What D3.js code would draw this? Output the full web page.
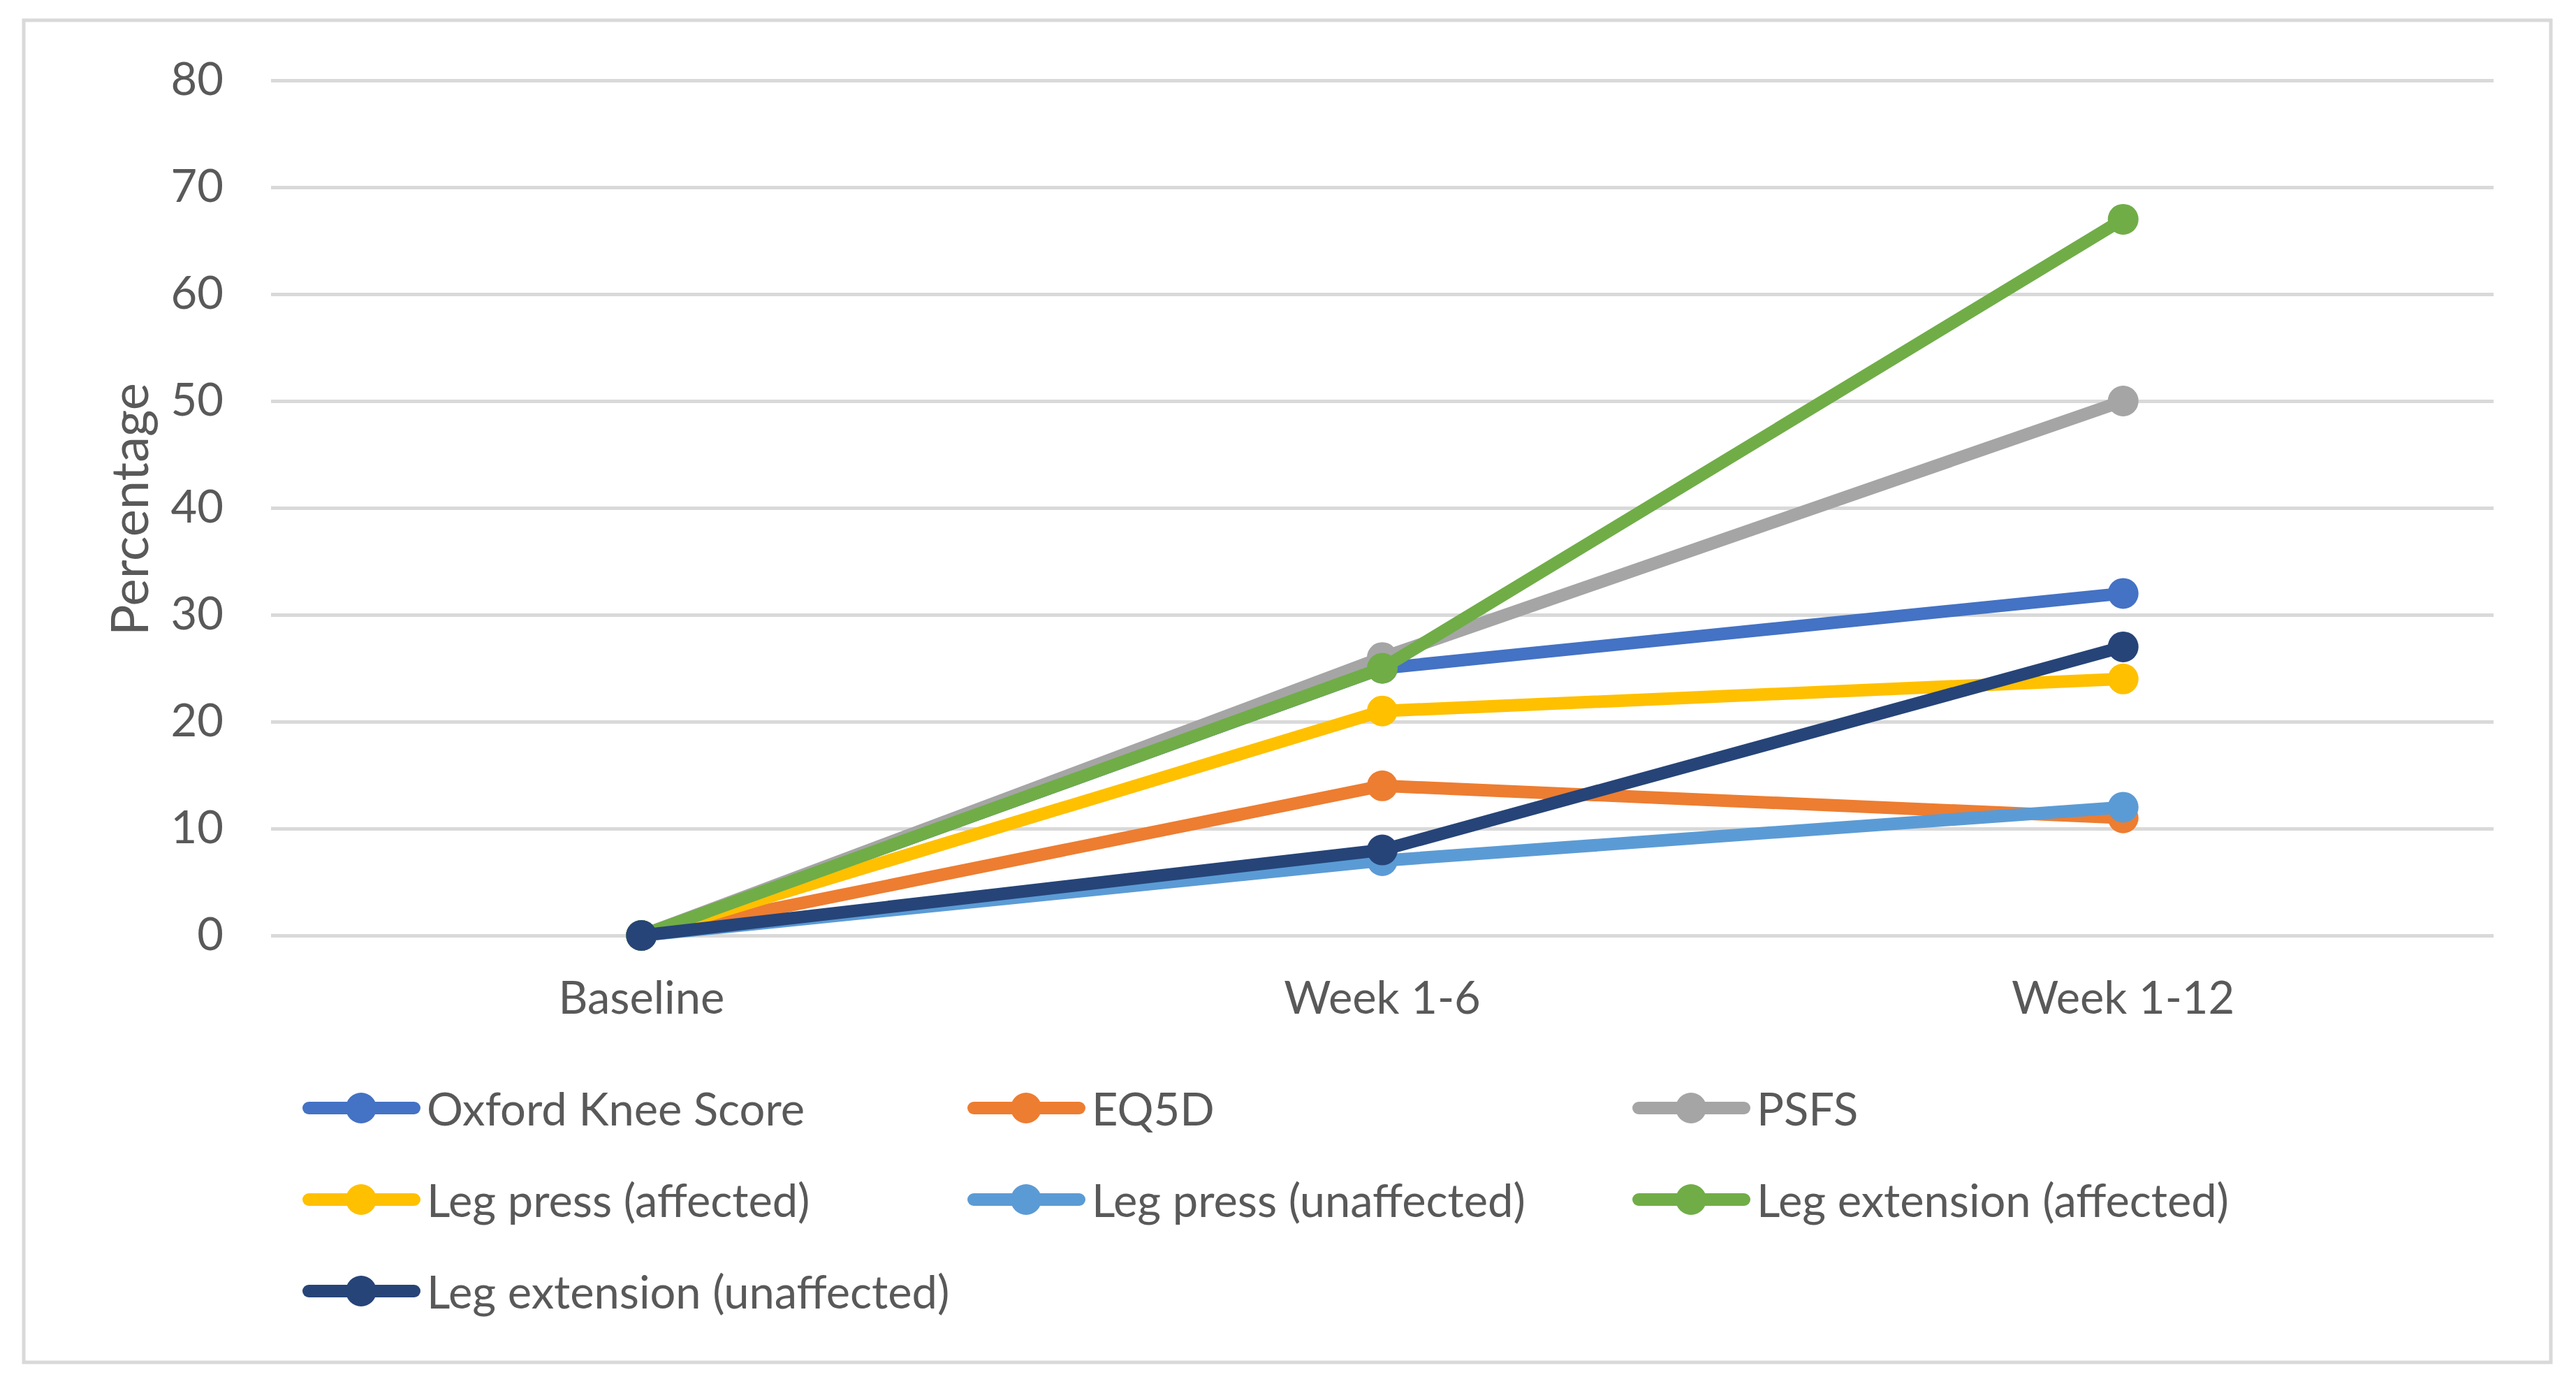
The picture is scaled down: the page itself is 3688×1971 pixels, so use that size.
<!DOCTYPE html>
<html>
<head>
<meta charset="utf-8">
<script src="https://cdn.jsdelivr.net/npm/d3@7"></script>
<style>
  body { margin: 0; background: #fff; }
  text { font-family: Lato, "Liberation Sans", sans-serif; fill: #595959; }
</style>
</head>
<body>
<svg id="chart" width="3688" height="1971"></svg>
<script>
// chart data
const categories = ['Baseline', 'Week 1-6', 'Week 1-12'];
const seriesNames = [
  'Oxford Knee Score',
  'EQ5D',
  'PSFS',
  'Leg press (affected)',
  'Leg press (unaffected)',
  'Leg extension (affected)',
  'Leg extension (unaffected)'
];
const seriesColors = ['#4472C4', '#ED7D31', '#A5A5A5', '#FFC000', '#5B9BD5', '#70AD47', '#264478'];
const oxfordValues = [0, 25, 32];
const eq5dValues = [0, 14, 11];
const psfsValues = [0, 26, 50];
const legPressAffected = [0, 21, 24];
const legPressUnaffected = [0, 7, 12];
const legExtAffected = [0, 25, 67];
const legExtUnaffected = [0, 8, 27];
const yTicks = [0, 10, 20, 30, 40, 50, 60, 70, 80];

const allValues = [oxfordValues, eq5dValues, psfsValues, legPressAffected,
  legPressUnaffected, legExtAffected, legExtUnaffected];

const series = seriesNames.map((name, i) => ({
  name: name,
  color: seriesColors[i],
  values: allValues[i].map((v, j) => ({ cat: categories[j], value: v }))
}));

const svg = d3.select('#chart');
const fontSize = 65;

// outer border
svg.append('rect')
  .attr('x', 34).attr('y', 29)
  .attr('width', 3618).attr('height', 1921)
  .attr('fill', 'none')
  .attr('stroke', '#d9d9d9')
  .attr('stroke-width', 5);

const plot = { left: 388, right: 3570, top: 115, bottom: 1339 };

const x = d3.scaleBand().domain(categories).range([plot.left, plot.right]);
const y = d3.scaleLinear().domain([0, 80]).range([plot.bottom, plot.top]);

// gridlines + y tick labels
const yAxis = svg.append('g')
  .attr('transform', `translate(${plot.left}, 0)`)
  .call(d3.axisLeft(y).tickValues(yTicks).tickSize(-(plot.right - plot.left)).tickPadding(68));
yAxis.select('.domain').remove();
yAxis.selectAll('.tick line').attr('stroke', '#d9d9d9').attr('stroke-width', 5);
yAxis.selectAll('.tick text')
  .style('font-family', 'Lato, "Liberation Sans", sans-serif')
  .style('font-size', fontSize + 'px')
  .attr('fill', '#595959');

// category labels
const xAxis = svg.append('g')
  .attr('transform', `translate(0, ${plot.bottom})`)
  .call(d3.axisBottom(x).tickSize(0).tickPadding(66));
xAxis.select('.domain').remove();
xAxis.selectAll('.tick text')
  .style('font-family', 'Lato, "Liberation Sans", sans-serif')
  .style('font-size', fontSize + 'px')
  .attr('fill', '#595959');

// axis title
svg.append('text')
  .attr('transform', 'translate(183, 729) rotate(-90)')
  .attr('text-anchor', 'middle')
  .attr('dominant-baseline', 'central')
  .style('font-size', '74px')
  .text('Percentage');

const line = d3.line()
  .x((d) => x(d.cat) + x.bandwidth() / 2)
  .y((d) => y(d.value));

const sGroups = svg.selectAll('.series')
  .data(series)
  .enter()
  .append('g')
  .attr('class', 'series');

sGroups.append('path')
  .attr('d', (d) => line(d.values))
  .attr('fill', 'none')
  .attr('stroke', (d) => d.color)
  .attr('stroke-width', 18)
  .attr('stroke-linecap', 'round')
  .attr('stroke-linejoin', 'round');

sGroups.selectAll('circle')
  .data((d) => d.values.map((v) => ({ ...v, color: d.color })))
  .enter()
  .append('circle')
  .attr('cx', (d) => x(d.cat) + x.bandwidth() / 2)
  .attr('cy', (d) => y(d.value))
  .attr('r', 22)
  .attr('fill', (d) => d.color);

// legend: 3 columns, rows of 131px
const legend = svg.append('g').attr('transform', 'translate(433, 1586)');
const item = legend.selectAll('.legend-item')
  .data(series)
  .enter()
  .append('g')
  .attr('class', 'legend-item')
  .attr('transform', (d, i) => `translate(${(i % 3) * 952}, ${Math.floor(i / 3) * 131})`);

item.append('line')
  .attr('x1', 9).attr('x2', 160)
  .attr('y1', 0).attr('y2', 0)
  .attr('stroke', (d) => d.color)
  .attr('stroke-width', 18)
  .attr('stroke-linecap', 'round');

item.append('circle')
  .attr('cx', 84).attr('cy', 0).attr('r', 22)
  .attr('fill', (d) => d.color);

item.append('text')
  .attr('x', 178)
  .attr('dominant-baseline', 'central')
  .style('font-size', fontSize + 'px')
  .text((d) => d.name);
</script>
</body>
</html>
